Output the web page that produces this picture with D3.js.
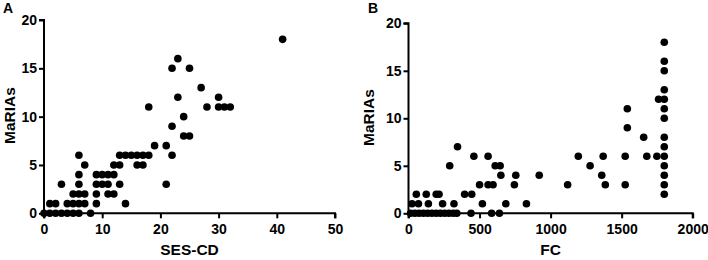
<!DOCTYPE html>
<html><head><meta charset="utf-8">
<script src="https://cdn.jsdelivr.net/npm/d3@7"></script>
<style>
html,body{margin:0;padding:0;background:#fff;}
svg text{font-family:"Liberation Sans",Arial,sans-serif;font-weight:bold;fill:#000;}
</style></head><body>
<svg id="c" width="708" height="260"></svg>
<script>
// Panel A: SES-CD vs MaRIAs
const sesX = [0,1,2,3,4,5,6,8, 1,2,4,5,6,7,9,14, 5,6,7,9,11,12, 3,6,9,10,11,13,21, 6,9,10,11,12, 7,12,13,16,17, 6,13,14,15,16,17,18,22, 19,21, 24,25, 22, 24, 18,28,30,31,32, 23,30, 27, 22,25, 23, 41];
const sesY = [0,0,0,0,0,0,0,0, 1,1,1,1,1,1,1,1, 2,2,2,2,2,2, 3,3,3,3,3,3,3, 4,4,4,4,4, 5,5,5,5,5, 6,6,6,6,6,6,6,6, 7,7, 8,8, 9, 10, 11,11,11,11,11, 12,12, 13, 15,15, 16, 18];
// Panel B: FC vs MaRIAs
const fcX = [15,45,75,105,135,165,195,225,255,285,315,340,440,585,640,
  25,70,140,240,320,520,685,830,
  55,125,195,215,395,445,1800,
  500,560,595,745,1120,1385,1525,1800,
  650,755,920,1360,1800,
  290,610,645,1278,1800,
  460,560,1195,1370,1525,1677,1748,1800,
  345,1800, 1655,1800, 1540, 1800, 1540,1800, 1760,1800, 1800, 1800, 1800, 1800];
const fcY = [0,0,0,0,0,0,0,0,0,0,0,0,0,0,0,
  1,1,1,1,1,1,1,1,
  2,2,2,2,2,2,2,
  3,3,3,3,3,3,3,3,
  4,4,4,4,4,
  5,5,5,5,5,
  6,6,6,6,6,6,6,6,
  7,7, 8,8, 9, 10, 11,11, 12,12, 13, 15, 16, 18];
const yTicks = [0,5,10,15,20];
const sesTicks = [0,10,20,30,40,50];
const fcTicks = [0,500,1000,1500,2000];

const svg = d3.select("#c");

function panel(o){
  const x = d3.scaleLinear().domain(o.xDomain).range([o.x0, o.x1]);
  const y = d3.scaleLinear().domain([0,20]).range([o.y0, o.y1]);
  const g = svg.append("g");
  const xa = g.append("g").attr("transform",`translate(0,${o.y0})`)
    .call(d3.axisBottom(x).tickValues(o.xTicks).tickSize(5).tickPadding(6).tickFormat(d3.format("d")));
  const ya = g.append("g").attr("transform",`translate(${o.x0},0)`)
    .call(d3.axisLeft(y).tickValues(yTicks).tickSize(5).tickPadding(2).tickFormat(d3.format("d")));
  [xa,ya].forEach(a=>{
    a.selectAll("path,line").attr("stroke","#000").attr("stroke-width",2);
    a.selectAll("text").style("font-size","14px").attr("fill","#000");
  });
  ya.select(".domain").attr("d",`M-5,${o.y1}H0V${o.y0}`);
  xa.select(".domain").attr("d",`M${o.x0},5V0H${o.x1}V5`);
  g.selectAll("circle.pt").data(o.xs.map((v,i)=>[v,o.ys[i]])).enter()
    .append("circle").attr("class","pt")
    .attr("cx",d=>x(d[0])).attr("cy",d=>y(d[1])).attr("r",3.8).attr("fill","#000");
  g.append("text").attr("x",(o.x0+o.x1)/2).attr("y",255).attr("text-anchor","middle")
    .style("font-size","15.5px").text(o.xTitle);
  g.append("text").attr("transform",`translate(${o.yTitleX},${o.yTitleY}) rotate(-90)`)
    .attr("text-anchor","middle").style("font-size","15.5px").text("MaRIAs");
  g.append("text").attr("x",o.letterX).attr("y",12.5).style("font-size","14px").text(o.letter);
}

panel({xDomain:[0,50], x0:44, x1:335, y0:213.3, y1:20, xTicks:sesTicks, xs:sesX, ys:sesY,
  xTitle:"SES-CD", yTitleX:15, yTitleY:115.5, letter:"A", letterX:3});
panel({xDomain:[0,2000], x0:408.5, x1:692.7, y0:213.3, y1:23.3, xTicks:fcTicks, xs:fcX, ys:fcY,
  xTitle:"FC", yTitleX:374, yTitleY:117.5, letter:"B", letterX:368});
</script></body></html>
